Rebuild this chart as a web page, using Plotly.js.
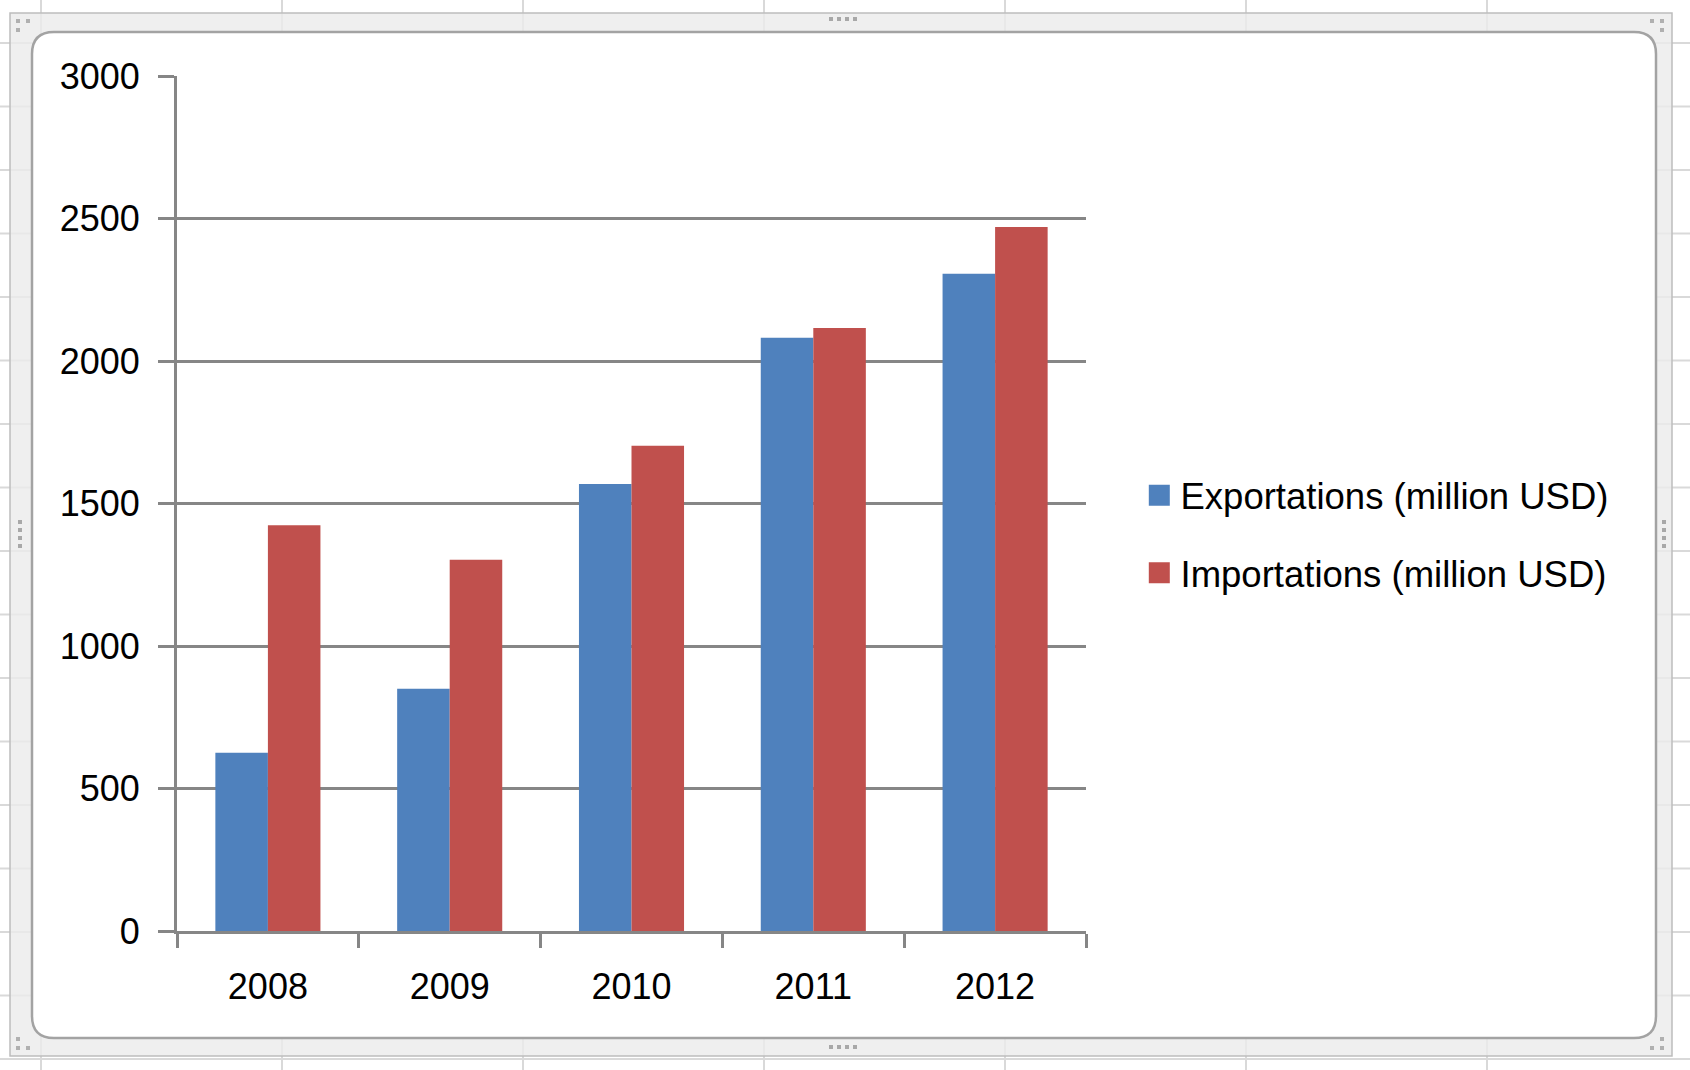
<!DOCTYPE html>
<html>
<head>
<meta charset="utf-8">
<script src="https://cdn.plot.ly/plotly-3.0.1.min.js"></script>
<style>
  html, body { margin: 0; padding: 0; background: #ffffff; }
  #chart { width: 1690px; height: 1070px; }
</style>
</head>
<body>
<div id="chart"></div>
<script>
// ---- data ----
const years = ['2008', '2009', '2010', '2011', '2012'];
const exportations = [625, 850, 1568, 2082, 2306];
const importations = [1424, 1303, 1703, 2116, 2470];
const seriesNames = ['Exportations (million USD)', 'Importations (million USD)'];
const yTickValues = [0, 500, 1000, 1500, 2000, 2500, 3000];

// ---- geometry ----
const W = 1690, H = 1070;
const M = { l: 177, r: 604, t: 76, b: 139 };
const PW = W - M.l - M.r, PH = H - M.t - M.b;
const px = x => (x - M.l) / PW;          // page pixel -> paper x
const py = y => (H - M.b - y) / PH;      // page pixel -> paper y

const FONT = 'Liberation Sans, Arial, sans-serif';
const AX = '#868686';
const BLUE = '#4F81BD', RED = '#C0504D';

const shapes = [];
// spreadsheet grid lines behind the chart object
for (let k = 0; k < 8; k++) {
  const x = 41 + 241 * k;
  shapes.push({type: 'line', xref: 'paper', yref: 'paper', layer: 'below',
    x0: px(x), x1: px(x), y0: py(0), y1: py(H), line: {color: '#d9d9d9', width: 2}});
}
for (let k = 0; k < 17; k++) {
  const y = 43 + 63.5 * k;
  shapes.push({type: 'line', xref: 'paper', yref: 'paper', layer: 'below',
    x0: px(0), x1: px(W), y0: py(y), y1: py(y), line: {color: '#d9d9d9', width: 2}});
}
// outer frame band
shapes.push({type: 'rect', xref: 'paper', yref: 'paper', layer: 'below',
  x0: px(10), x1: px(1672), y0: py(13), y1: py(1056),
  fillcolor: 'rgba(236,236,236,0.82)', line: {color: '#bdbdbd', width: 1.5}});
// inner white chart area with rounded corners
function roundRect(x0, y0, x1, y1, r) {
  const P = (x, y) => px(x) + ',' + py(y);
  return 'M' + P(x0 + r, y0) + ' L' + P(x1 - r, y0) + ' Q' + P(x1, y0) + ' ' + P(x1, y0 + r) +
    ' L' + P(x1, y1 - r) + ' Q' + P(x1, y1) + ' ' + P(x1 - r, y1) +
    ' L' + P(x0 + r, y1) + ' Q' + P(x0, y1) + ' ' + P(x0, y1 - r) +
    ' L' + P(x0, y0 + r) + ' Q' + P(x0, y0) + ' ' + P(x0 + r, y0) + ' Z';
}
shapes.push({type: 'path', xref: 'paper', yref: 'paper', layer: 'below',
  path: roundRect(32, 32, 1656, 1038, 22), fillcolor: '#ffffff', line: {color: '#a3a3a3', width: 2.5}});
// resize handle dots
function dots(cx, cy, horiz) {
  for (let i = 0; i < 4; i++) {
    const x = horiz ? cx + i * 8 : cx, y = horiz ? cy : cy + i * 8;
    shapes.push({type: 'rect', xref: 'paper', yref: 'paper', layer: 'below',
      x0: px(x), x1: px(x + 4), y0: py(y), y1: py(y + 4), fillcolor: '#a8a8a8', line: {width: 0}});
  }
}
dots(829, 17, true); dots(829, 1045, true); dots(18, 520, false); dots(1662, 520, false);
[[16, 19], [26, 19], [16, 28], [1660, 19], [1650, 19], [1660, 28], [16, 1046], [26, 1046], [16, 1037], [1660, 1046], [1650, 1046], [1660, 1037]]
  .forEach(d => shapes.push({type: 'rect', xref: 'paper', yref: 'paper', layer: 'below',
    x0: px(d[0]), x1: px(d[0] + 4), y0: py(d[1]), y1: py(d[1] + 4), fillcolor: '#b0b0b0', line: {width: 0}}));

const traces = [
  {type: 'bar', x: years, y: exportations, name: seriesNames[0], legendgroup: 'exp',
   marker: {color: BLUE, line: {width: 0}}, hoverinfo: 'skip'},
  {type: 'bar', x: years, y: importations, name: seriesNames[1], legendgroup: 'imp',
   marker: {color: RED, line: {width: 0}}, hoverinfo: 'skip'}
];

const layout = {
  width: W, height: H,
  margin: {l: M.l, r: M.r, t: M.t, b: M.b, autoexpand: false},
  paper_bgcolor: '#ffffff', plot_bgcolor: 'rgba(0,0,0,0)',
  font: {family: FONT, size: 36, color: '#000000'},
  barmode: 'group', bargap: 0.422, bargroupgap: 0,
  showlegend: true,
  legend: {
    xref: 'container', yref: 'container',
    x: (1160.5 - 20) / W, xanchor: 'left',
    y: 1 - 534 / H, yanchor: 'middle',
    font: {family: FONT, size: 36.5, color: '#000000'},
    traceorder: 'grouped', tracegroupgap: 27,
    bgcolor: 'rgba(0,0,0,0)', borderwidth: 0
  },
  xaxis: {
    type: 'category', tickson: 'boundaries',
    showline: true, linecolor: AX, linewidth: 3,
    ticks: 'outside', ticklen: 14, tickwidth: 3, tickcolor: AX,
    showgrid: false, zeroline: false,
    tickfont: {family: FONT, size: 36, color: '#000000'},
    ticklabelstandoff: 22
  },
  yaxis: {
    range: [0, 3000], tickmode: 'array', tickvals: yTickValues,
    showline: true, linecolor: AX, linewidth: 3,
    ticks: 'outside', ticklen: 16, tickwidth: 3, tickcolor: AX,
    showgrid: true, gridcolor: AX, gridwidth: 3, zeroline: false,
    tickfont: {family: FONT, size: 36, color: '#000000'},
    ticklabelstandoff: 11
  },
  shapes: shapes
};

Plotly.newPlot('chart', traces, layout, {staticPlot: true, displayModeBar: false}).then(() => {
  // enlarge the legend swatches to the square size of the original and place them just left of the text
  document.querySelectorAll('#chart .legend .traces').forEach(tr => {
    const txt = tr.querySelector('text.legendtext');
    tr.querySelectorAll('.legendpoints path').forEach(p => {
      p.removeAttribute('transform');
      const bb = p.getBBox();
      const r = p.getBoundingClientRect();
      const t = txt.getBoundingClientRect();
      const cx0 = (r.left + r.right) / 2, cy0 = (r.top + r.bottom) / 2;
      const dx = (t.left - 21.2) - cx0;
      const bx = bb.x + bb.width / 2, by = bb.y + bb.height / 2;
      p.setAttribute('transform',
        'translate(' + (bx + dx) + ',' + by + ') scale(1.75) translate(' + (-bx) + ',' + (-by) + ')');
    });
  });
});
</script>
</body>
</html>
